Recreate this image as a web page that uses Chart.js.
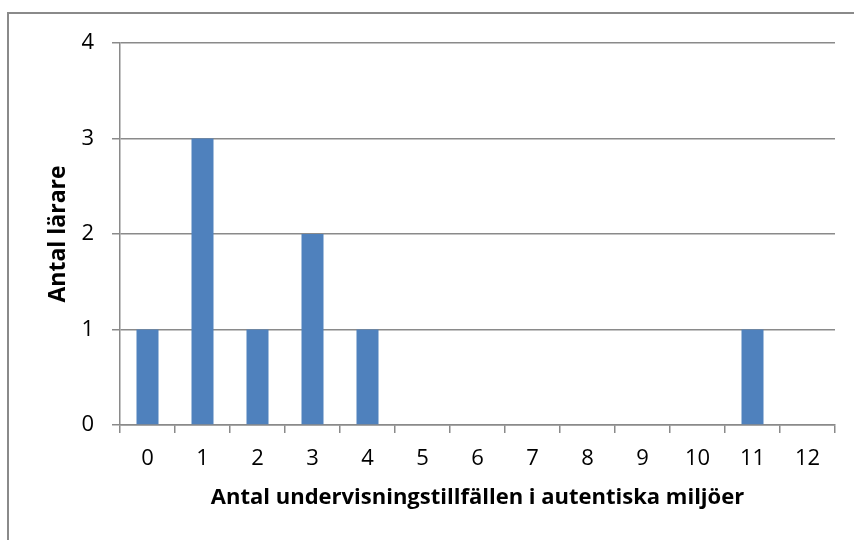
<!DOCTYPE html>
<html>
<head>
<meta charset="utf-8">
<script src="https://cdn.jsdelivr.net/npm/chart.js@4/dist/chart.umd.min.js"></script>
<style>
  html, body { margin: 0; padding: 0; background: #ffffff; overflow: hidden; }
  #wrap { position: relative; width: 854px; height: 540px; }
  #frame { position: absolute; left: 7px; top: 12px; width: 900px; height: 600px; border: 2px solid #8a8a8a; box-sizing: border-box; }
  #c { position: absolute; left: 0; top: 0; }
</style>
</head>
<body>
<div id="wrap">
  <div id="frame"></div>
  <canvas id="c" width="854" height="540"></canvas>
</div>
<script>
const categories = ["0","1","2","3","4","5","6","7","8","9","10","11","12"];
const teacherCounts = [1, 3, 1, 2, 1, 0, 0, 0, 0, 0, 0, 1, 0];
const yTickValues = [0, 1, 2, 3, 4];
const xTitle = "Antal undervisningstillfällen i autentiska miljöer";
const yTitle = "Antal lärare";

const FONT = "'Open Sans', Lato, sans-serif";
const GRID = "#8a8a8a";

new Chart(document.getElementById('c'), {
  type: 'bar',
  data: {
    labels: categories,
    datasets: [{
      data: teacherCounts,
      backgroundColor: '#4f81bd',
      borderWidth: 0,
      categoryPercentage: 1.0,
      barPercentage: 0.4
    }]
  },
  options: {
    responsive: false,
    animation: false,
    devicePixelRatio: 1,
    layout: { padding: { top: 43, right: 19, left: 0, bottom: 0 } },
    plugins: {
      legend: { display: false },
      tooltip: { enabled: false }
    },
    scales: {
      x: {
        offset: true,
        grid: {
          offset: true,
          drawOnChartArea: false,
          drawTicks: true,
          tickLength: 8,
          color: GRID,
          lineWidth: 1.5
        },
        border: { display: true, color: GRID, width: 1.5 },
        ticks: {
          color: '#000000',
          font: { family: FONT, size: 22 },
          padding: 13,
          maxRotation: 0,
          autoSkip: false
        },
        title: {
          display: true,
          text: xTitle,
          color: '#000000',
          font: { family: FONT, size: 22, weight: 'bold', lineHeight: 1.2 },
          padding: { top: 0, bottom: 29 }
        },
        afterFit: (s) => { s.height = 115; }
      },
      y: {
        min: 0,
        max: 4,
        afterBuildTicks: (s) => { s.ticks = yTickValues.map(v => ({ value: v })); },
        grid: {
          color: GRID,
          lineWidth: 1.5,
          drawTicks: true,
          tickLength: 8
        },
        border: { display: true, color: GRID, width: 1.5 },
        ticks: {
          color: '#000000',
          font: { family: FONT, size: 22 },
          padding: 18
        },
        title: {
          display: true,
          text: yTitle,
          color: '#000000',
          font: { family: FONT, size: 23, weight: 'bold', lineHeight: 1.2 },
          padding: { top: 45, bottom: 0 }
        },
        afterFit: (s) => { s.width = 120; }
      }
    }
  }
});
</script>
</body>
</html>
